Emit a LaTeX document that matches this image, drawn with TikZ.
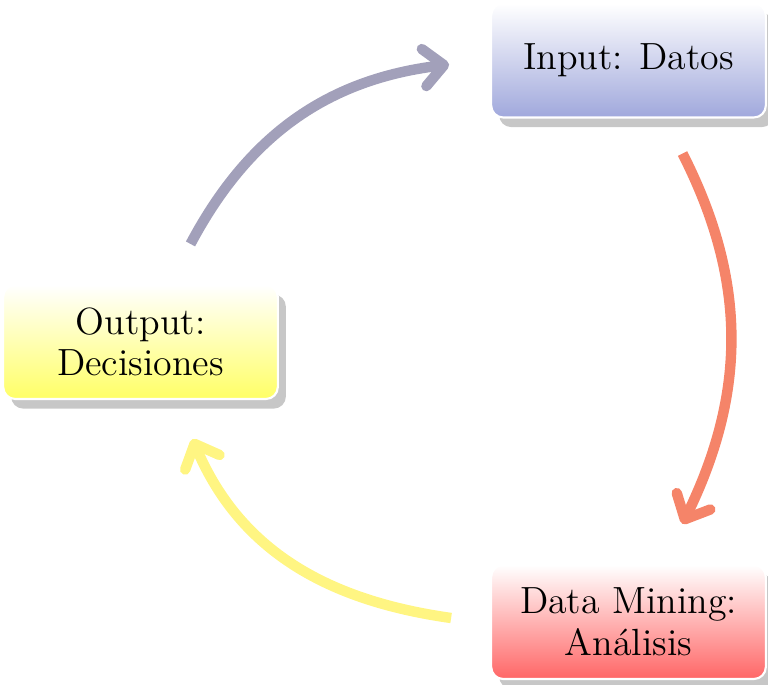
\documentclass[tikz,border=0pt]{standalone}
\usetikzlibrary{shadows,arrows.meta,calc}
\definecolor{arrblue}{RGB}{162,160,186}
\definecolor{arrred}{RGB}{245,132,105}
\definecolor{arryel}{RGB}{255,245,130}
\definecolor{boxblue}{RGB}{160,168,220}
\definecolor{boxred}{RGB}{255,102,102}
\definecolor{boxyel}{RGB}{255,255,102}
\tikzset{
  modbox/.style={draw=white, line width=0.8pt, rounded corners=4.5pt,
    minimum width=103pt, minimum height=42.75pt, align=center, text=black,
    font=\fontsize{14.2}{15.6}\selectfont, top color=white,
    drop shadow={shadow xshift=3pt, shadow yshift=-3.6pt, fill=black!22, opacity=1}},
  cyc/.style={line width=3.9pt, -{Straight Barb[round,length=7.5pt,width=14pt]}}
}
\begin{document}
\begin{tikzpicture}[x=0.375pt,y=0.375pt]
\useasboundingbox (0,0) rectangle (768,684);
\node[modbox, bottom color=boxblue] (in) at (628.5,623.5) {Input: Datos};
\node[modbox, bottom color=boxyel] (outp) at (140.5,342) {Output:\\Decisiones};
\node[modbox, bottom color=boxred] (dm) at (628.5,62) {Data Mining:\\An\'alisis};
\draw[cyc, arrblue] ($(outp.north)+(50,40)$) to[out=62, in=187] ($(in.west)+(-41,-4)$);
\draw[cyc, arrred] ($(in.south)+(54,-35)$) to[out=-63, in=64] ($(dm.north)+(54,40)$);
\draw[cyc, arryel] ($(dm.west)+(-39,4)$) to[out=172, in=-67] ($(outp.south)+(52,-39)$);
\end{tikzpicture}
\end{document}
